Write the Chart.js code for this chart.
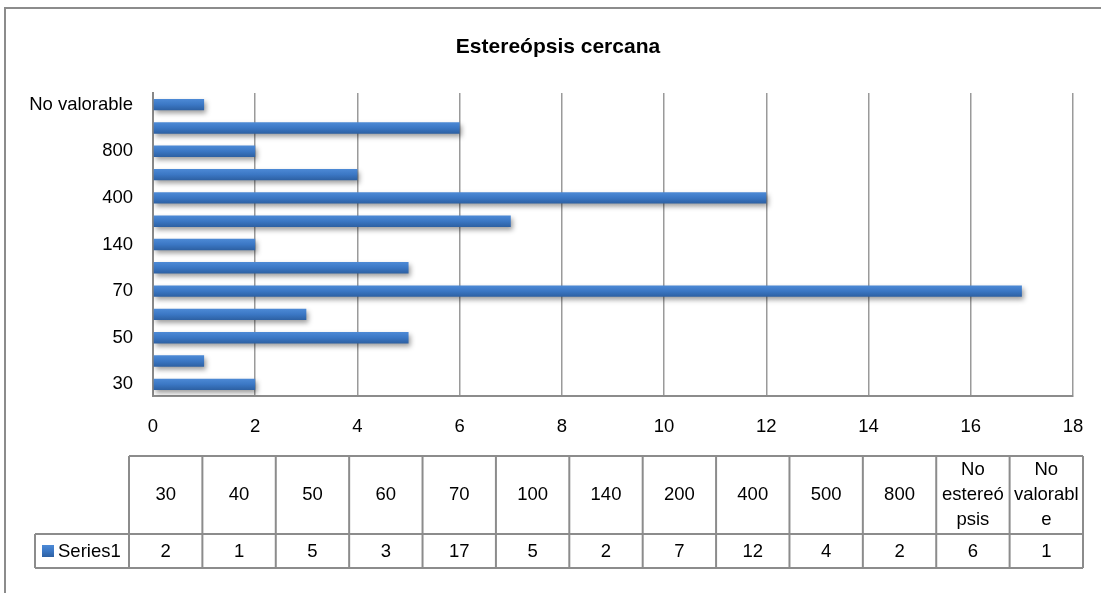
<!DOCTYPE html>
<html>
<head>
<meta charset="utf-8">
<script src="https://cdn.jsdelivr.net/npm/chart.js@4/dist/chart.umd.min.js"></script>
<style>
  html, body { margin: 0; padding: 0; background: #ffffff; }
  #wrap { width: 1101px; height: 593px; position: relative; }
</style>
</head>
<body>
<div id="wrap"><canvas id="c" width="1101" height="593"></canvas></div>
<script>
// Near-stereopsis results: number of cases per threshold (seconds of arc)
const categories = ['30', '40', '50', '60', '70', '100', '140', '200', '400', '500', '800', 'No estereópsis', 'No valorable'];
const seriesName = 'Series1';
const values = [2, 1, 5, 3, 17, 5, 2, 7, 12, 4, 2, 6, 1];
const xMin = 0;
const xMax = 18;
const xStep = 2;
const chartTitle = 'Estereópsis cercana';

const FONT = "'Liberation Sans', Arial, sans-serif";
const FONT_SIZE = 18.5;
const LINE_COLOR = '#8c8c8c';
const BAR_PCT = 1 / 2.05;

function barGradient(ctx, top, bottom) {
  const g = ctx.createLinearGradient(0, top, 0, bottom);
  g.addColorStop(0, '#4d8ad6');
  g.addColorStop(0.5, '#3b77c4');
  g.addColorStop(1, '#2d60a2');
  return g;
}

// Outer frame of the chart object and its centred title
const framePlugin = {
  id: 'frame',
  beforeDraw(chart) {
    const ctx = chart.ctx;
    ctx.save();
    ctx.fillStyle = '#ffffff';
    ctx.fillRect(0, 0, chart.width, chart.height);
    ctx.strokeStyle = LINE_COLOR;
    ctx.lineWidth = 2;
    ctx.strokeRect(5, 8, chart.width + 20, chart.height + 20);
    ctx.fillStyle = '#000000';
    ctx.font = 'bold 21px ' + FONT;
    ctx.textAlign = 'center';
    ctx.textBaseline = 'middle';
    ctx.fillText(chartTitle, 558, 47);
    ctx.restore();
  }
};

// Soft drop shadow under the bars
const shadowPlugin = {
  id: 'barShadow',
  beforeDatasetsDraw(chart) {
    const ctx = chart.ctx;
    ctx.save();
    ctx.shadowColor = 'rgba(0,0,0,0.38)';
    ctx.shadowBlur = 5;
    ctx.shadowOffsetX = 2;
    ctx.shadowOffsetY = 3;
  },
  afterDatasetsDraw(chart) {
    chart.ctx.restore();
  }
};

// Data table under the axis: category header row and the value row
function wrapText(ctx, text, maxW) {
  const words = text.split(' ');
  const lines = [];
  let cur = '';
  const pushWord = (w) => {
    // break an over-long word character by character
    let piece = '';
    for (const ch of w) {
      if (ctx.measureText(piece + ch).width > maxW && piece) {
        lines.push(piece);
        piece = ch;
      } else {
        piece += ch;
      }
    }
    return piece;
  };
  for (const w of words) {
    const trial = cur ? cur + ' ' + w : w;
    if (ctx.measureText(trial).width <= maxW) {
      cur = trial;
    } else {
      if (cur) lines.push(cur);
      cur = ctx.measureText(w).width <= maxW ? w : pushWord(w);
    }
  }
  if (cur) lines.push(cur);
  return lines;
}

const tablePlugin = {
  id: 'dataTable',
  afterDraw(chart) {
    const ctx = chart.ctx;
    const legendLeft = 35, colLeft = 129, colRight = 1083;
    const top = 456, mid = 534, bottom = 568;
    const n = categories.length;
    const colW = (colRight - colLeft) / n;
    ctx.save();
    ctx.strokeStyle = LINE_COLOR;
    ctx.lineWidth = 2;
    // outline and row separators
    ctx.beginPath();
    ctx.moveTo(colLeft, top); ctx.lineTo(colRight, top);
    ctx.moveTo(legendLeft, mid); ctx.lineTo(colRight, mid);
    ctx.moveTo(legendLeft, bottom); ctx.lineTo(colRight, bottom);
    ctx.moveTo(legendLeft, mid); ctx.lineTo(legendLeft, bottom);
    for (let i = 0; i <= n; i++) {
      const x = colLeft + i * colW;
      ctx.moveTo(x, top); ctx.lineTo(x, bottom);
    }
    ctx.stroke();

    ctx.fillStyle = '#000000';
    ctx.font = FONT_SIZE + 'px ' + FONT;
    ctx.textAlign = 'center';
    ctx.textBaseline = 'middle';
    const lh = 25;
    categories.forEach((c, i) => {
      const cx = colLeft + (i + 0.5) * colW;
      const lines = wrapText(ctx, c, colW - 4);
      const y0 = (top + mid) / 2 - (lines.length - 1) * lh / 2;
      lines.forEach((ln, k) => ctx.fillText(ln, cx, y0 + k * lh));
      ctx.fillText(String(values[i]), cx, (mid + bottom) / 2 + 1);
    });

    // legend key in the first cell of the value row
    const ky = (mid + bottom) / 2;
    ctx.fillStyle = barGradient(ctx, ky - 6, ky + 6);
    ctx.fillRect(42, ky - 6, 12, 12);
    ctx.fillStyle = '#000000';
    ctx.textAlign = 'left';
    ctx.fillText(seriesName, 58, ky + 1);
    ctx.restore();
  }
};

const chart = new Chart(document.getElementById('c'), {
  type: 'bar',
  data: {
    labels: categories,
    datasets: [{
      label: seriesName,
      data: values,
      backgroundColor(context) {
        const ch = context.chart;
        const ys = ch.scales && ch.scales.y;
        if (!ch.chartArea || !ys || context.type !== 'data') return '#3b77c4';
        const yc = ys.getPixelForValue(context.dataIndex);
        const h = ys.height / categories.length * BAR_PCT;
        return barGradient(ch.ctx, yc - h / 2, yc + h / 2);
      },
      borderWidth: 0,
      barPercentage: BAR_PCT,
      categoryPercentage: 1
    }]
  },
  options: {
    indexAxis: 'y',
    responsive: false,
    animation: false,
    devicePixelRatio: 1,
    layout: { padding: { left: 0, right: 28, top: 93, bottom: 0 } },
    plugins: {
      legend: { display: false },
      tooltip: { enabled: false },
      title: { display: false }
    },
    scales: {
      x: {
        type: 'linear',
        min: xMin,
        max: xMax,
        ticks: {
          stepSize: xStep,
          color: '#000000',
          font: { family: FONT, size: FONT_SIZE },
          padding: 20
        },
        grid: { color: '#9a9a9a', lineWidth: 1.5, drawTicks: false },
        border: { display: true, color: LINE_COLOR, width: 2 },
        afterFit(scale) {
          scale.height = 197;
          // keep the plot's right edge fixed regardless of the last tick label
          scale.paddingRight = 0;
        }
      },
      y: {
        type: 'category',
        reverse: true,
        ticks: {
          autoSkip: false,
          color: '#000000',
          font: { family: FONT, size: FONT_SIZE },
          padding: 20,
          callback(v, i) { return i % 2 === 0 ? categories[i] : ''; }
        },
        grid: { display: false, drawTicks: false },
        border: { display: true, color: '#888888', width: 2 },
        afterFit(scale) { scale.width = 153; }
      }
    }
  },
  plugins: [framePlugin, shadowPlugin, tablePlugin]
});
</script>
</body>
</html>
